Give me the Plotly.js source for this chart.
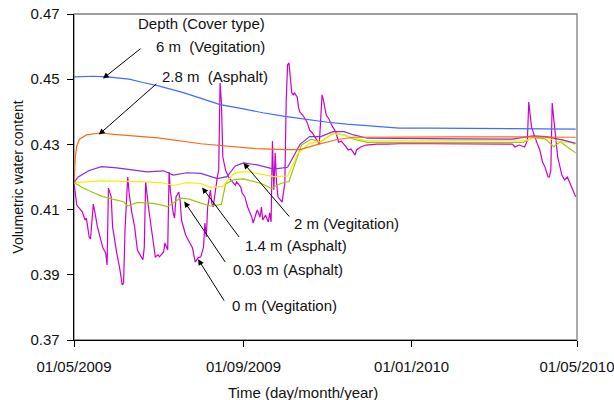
<!DOCTYPE html>
<html>
<head>
<meta charset="utf-8">
<script src="https://cdn.plot.ly/plotly-3.0.1.min.js"></script>
<style>
  html, body { margin: 0; padding: 0; background: #ffffff; }
  #chart { width: 614px; height: 400px; }
</style>
</head>
<body>
<div id="chart"></div>
<script>
// Volumetric water content at several depths, May 2009 - May 2010

// 6 m (Vegitation)
const depth6mDates = ['2009-05-01','2009-05-15','2009-05-25','2009-06-10','2009-06-20','2009-07-02','2009-07-20','2009-08-01','2009-08-15','2009-09-01','2009-09-15','2009-10-01','2009-10-15','2009-11-01','2009-11-15','2009-12-01','2009-12-07','2009-12-23','2010-01-15','2010-02-15','2010-03-12','2010-04-30'];
const depth6mValues = [0.4507,0.4509,0.4507,0.4500,0.4490,0.4479,0.4458,0.4442,0.4422,0.4409,0.4397,0.4386,0.4377,0.4368,0.4362,0.4357,0.4354,0.4350,0.4350,0.4349,0.4347,0.4347];

// 2.8 m (Asphalt)
const depth28mDates = ['2009-05-01','2009-05-02','2009-05-03','2009-05-05','2009-05-10','2009-05-20','2009-06-01','2009-07-01','2009-08-01','2009-08-20','2009-09-10','2009-10-01','2009-10-12','2009-10-25','2009-11-08','2009-11-20','2009-12-15','2010-02-01','2010-03-15','2010-04-20','2010-04-30'];
const depth28mValues = [0.4183,0.4264,0.4295,0.4316,0.4329,0.4335,0.4330,0.4320,0.4302,0.4294,0.4287,0.4284,0.4284,0.4300,0.4315,0.4322,0.4323,0.4323,0.4323,0.4323,0.4322];

// 2 m (Vegitation)
const depth2mDates = ['2009-05-01','2009-05-04','2009-05-12','2009-05-21','2009-06-01','2009-06-13','2009-06-23','2009-07-05','2009-07-12','2009-07-22','2009-08-01','2009-08-13','2009-08-20','2009-08-26','2009-09-01','2009-09-11','2009-09-23','2009-10-03','2009-10-12','2009-10-19','2009-10-27','2009-11-05','2009-11-13','2009-11-20','2009-11-30','2010-02-05','2010-03-15','2010-03-30','2010-04-09','2010-04-21','2010-04-30'];
const depth2mValues = [0.4183,0.4200,0.4220,0.4232,0.4228,0.4221,0.4216,0.4219,0.4206,0.4213,0.4211,0.4195,0.4201,0.4234,0.4243,0.4237,0.4224,0.4230,0.4300,0.4324,0.4324,0.4339,0.4339,0.4329,0.4319,0.4317,0.4316,0.4326,0.4324,0.4313,0.4303];

// 1.4 m (Asphalt)
const depth14mDates = ['2009-05-01','2009-05-20','2009-06-16','2009-07-03','2009-07-12','2009-07-22','2009-08-01','2009-08-08','2009-08-17','2009-08-25','2009-09-03','2009-09-11','2009-09-23','2009-10-03','2009-10-10','2009-10-19','2009-10-27','2009-11-05','2009-11-13','2009-11-20','2009-11-30','2010-02-12','2010-03-26','2010-04-02','2010-04-09','2010-04-17','2010-04-27','2010-04-30'];
const depth14mValues = [0.4183,0.4188,0.4186,0.4183,0.4174,0.4183,0.4180,0.4168,0.4171,0.4211,0.4217,0.4211,0.4201,0.4203,0.4270,0.4303,0.4309,0.4333,0.4329,0.4319,0.4311,0.4312,0.4313,0.4324,0.4321,0.4309,0.4305,0.4298];

// 0.03 m (Asphalt)
const depth003mDates = ['2009-05-01','2009-05-07','2009-05-14','2009-05-22','2009-05-29','2009-06-06','2009-06-09','2009-06-16','2009-06-28','2009-07-08','2009-07-17','2009-07-23','2009-08-01','2009-08-08','2009-08-16','2009-08-19','2009-08-25','2009-09-01','2009-09-14','2009-09-21','2009-09-28','2009-10-04','2009-10-13','2009-10-20','2009-10-27','2009-11-05','2009-11-13','2009-11-20','2009-11-30','2010-02-12','2010-03-23','2010-03-30','2010-04-08','2010-04-14','2010-04-19','2010-04-24','2010-04-30'];
const depth003mValues = [0.4183,0.4168,0.4154,0.4140,0.4132,0.4124,0.4111,0.4122,0.4119,0.4109,0.4135,0.4133,0.4120,0.4111,0.4116,0.4179,0.4192,0.4194,0.4180,0.4165,0.4180,0.4186,0.4298,0.4316,0.4308,0.4334,0.4329,0.4316,0.4306,0.4305,0.4306,0.4321,0.4317,0.4293,0.4308,0.4292,0.4274];

// 0 m (Vegitation)
const depth0mDates = ['2009-05-01','2009-05-03','2009-05-07','2009-05-09','2009-05-10','2009-05-12','2009-05-13','2009-05-15','2009-05-16','2009-05-18','2009-05-22','2009-05-24','2009-05-25','2009-05-26','2009-05-28','2009-05-29','2009-06-01','2009-06-03','2009-06-05','2009-06-06','2009-06-07','2009-06-09','2009-06-10','2009-06-12','2009-06-14','2009-06-16','2009-06-18','2009-06-20','2009-06-21','2009-06-22','2009-06-24','2009-06-26','2009-06-27','2009-06-29','2009-07-01','2009-07-02','2009-07-05','2009-07-06','2009-07-08','2009-07-09','2009-07-10','2009-07-12','2009-07-13','2009-07-14','2009-07-16','2009-07-17','2009-07-18','2009-07-21','2009-07-23','2009-07-26','2009-07-28','2009-07-30','2009-08-01','2009-08-03','2009-08-04','2009-08-05','2009-08-06','2009-08-08','2009-08-09','2009-08-10','2009-08-13','2009-08-14','2009-08-15','2009-08-16','2009-08-17','2009-08-19','2009-08-21','2009-08-24','2009-08-26','2009-08-27','2009-08-30','2009-08-31','2009-09-02','2009-09-04','2009-09-07','2009-09-08','2009-09-11','2009-09-13','2009-09-14','2009-09-15','2009-09-17','2009-09-19','2009-09-20','2009-09-21','2009-09-22','2009-09-23','2009-09-24','2009-09-25','2009-09-26','2009-09-29','2009-09-30','2009-10-01','2009-10-02','2009-10-03','2009-10-04','2009-10-05','2009-10-06','2009-10-07','2009-10-08','2009-10-10','2009-10-11','2009-10-12','2009-10-14','2009-10-17','2009-10-19','2009-10-21','2009-10-24','2009-10-26','2009-10-28','2009-10-29','2009-10-31','2009-11-02','2009-11-04','2009-11-07','2009-11-09','2009-11-11','2009-11-14','2009-11-16','2009-11-18','2009-11-21','2009-11-22','2009-11-25','2009-11-29','2009-12-07','2009-12-14','2009-12-23','2010-01-16','2010-02-12','2010-03-06','2010-03-15','2010-03-17','2010-03-20','2010-03-24','2010-03-25','2010-03-26','2010-03-27','2010-03-28','2010-03-29','2010-04-02','2010-04-04','2010-04-06','2010-04-08','2010-04-10','2010-04-11','2010-04-12','2010-04-13','2010-04-14','2010-04-16','2010-04-17','2010-04-20','2010-04-22','2010-04-24','2010-04-26','2010-04-28','2010-04-30'];
const depth0mValues = [0.4182,0.4114,0.4093,0.4068,0.4074,0.4016,0.4010,0.4117,0.4096,0.4047,0.3982,0.3967,0.3930,0.4166,0.4139,0.4047,0.3967,0.3924,0.3869,0.3875,0.4037,0.4200,0.4151,0.4090,0.4047,0.3976,0.3961,0.3946,0.3985,0.4185,0.4108,0.4037,0.4016,0.3955,0.3961,0.3955,0.3970,0.3998,0.3976,0.4215,0.4154,0.4090,0.4074,0.4139,0.4154,0.4129,0.4068,0.4022,0.4007,0.3982,0.3939,0.3952,0.3955,0.3985,0.4059,0.4016,0.4108,0.4160,0.4120,0.4108,0.4200,0.4221,0.4488,0.4427,0.4261,0.4221,0.4200,0.4185,0.4175,0.4185,0.4169,0.4151,0.4139,0.4108,0.4077,0.4059,0.4099,0.4077,0.4108,0.4068,0.4083,0.4062,0.4090,0.4062,0.4310,0.4160,0.4274,0.4182,0.4139,0.4123,0.4151,0.4182,0.4436,0.4544,0.4550,0.4488,0.4458,0.4452,0.4458,0.4445,0.4412,0.4399,0.4390,0.4369,0.4344,0.4335,0.4313,0.4301,0.4452,0.4436,0.4390,0.4378,0.4359,0.4338,0.4307,0.4310,0.4295,0.4283,0.4286,0.4267,0.4283,0.4292,0.4298,0.4301,0.4301,0.4302,0.4302,0.4302,0.4302,0.4301,0.4292,0.4298,0.4292,0.4304,0.4313,0.4430,0.4396,0.4353,0.4304,0.4283,0.4246,0.4228,0.4200,0.4200,0.4221,0.4427,0.4384,0.4313,0.4261,0.4206,0.4191,0.4200,0.4182,0.4160,0.4139];

// Axis ticks
const xTickDates = ['2009-05-01','2009-09-01','2010-01-01','2010-05-01'];
const xTickLabels = ['01/05/2009','01/09/2009','01/01/2010','01/05/2010'];
const yTickValues = [0.37,0.39,0.41,0.43,0.45,0.47];
const yTickLabels = ['0.37','0.39','0.41','0.43','0.45','0.47'];

// Callout labels and the point each arrow points at
const calloutLabels = ['6 m  (Vegitation)','2.8 m  (Asphalt)','2 m (Vegitation)','1.4 m (Asphalt)','0.03 m (Asphalt)','0 m (Vegitation)'];
const calloutTipDates = ['2009-05-22','2009-05-19','2009-09-01','2009-08-02','2009-07-20','2009-07-30'];
const calloutTipValues = [0.4502,0.4330,0.4243,0.4168,0.4125,0.3948];

const FONT = 'Liberation Sans, Arial, sans-serif';
const INK = '#111111';

const series = [
  {x: depth0mDates,  y: depth0mValues,  color: '#cc00cc'},
  {x: depth003mDates, y: depth003mValues, color: '#99cc00'},
  {x: depth14mDates, y: depth14mValues, color: '#f5ee00'},
  {x: depth2mDates,  y: depth2mValues,  color: '#8a2be2'},
  {x: depth28mDates, y: depth28mValues, color: '#ff6a10'},
  {x: depth6mDates,  y: depth6mValues,  color: '#3d6cff'}
];

const traces = series.map(s => ({
  type: 'scatter', mode: 'lines', x: s.x, y: s.y,
  line: {color: s.color, width: 1.2}, hoverinfo: 'skip', showlegend: false
}));

// arrow tails (pixel offsets from the tip) and label placement in paper units
const arrowOffsets = [[39,-31],[59,-52],[47,55],[38,51],[42,62],[27,43]];
const labelPos = [[0.159,0.899],[0.171,0.807],[0.434,0.356],[0.336,0.291],[0.312,0.215],[0.310,0.107]];

const annotations = [];
annotations.push({
  xref: 'paper', yref: 'paper', x: 0.123, y: 0.972, xanchor: 'left', yanchor: 'middle',
  text: 'Depth (Cover type)', showarrow: false, font: {family: FONT, size: 15, color: INK}
});
calloutLabels.forEach((t, i) => {
  annotations.push({
    xref: 'paper', yref: 'paper', x: labelPos[i][0], y: labelPos[i][1],
    xanchor: 'left', yanchor: 'middle', text: t, showarrow: false,
    font: {family: FONT, size: 15, color: INK}
  });
  annotations.push({
    xref: 'x', yref: 'y', x: calloutTipDates[i], y: calloutTipValues[i], text: '',
    showarrow: true, arrowhead: 2, arrowsize: 1.2, arrowwidth: 1, arrowcolor: '#000',
    ax: arrowOffsets[i][0], ay: arrowOffsets[i][1], standoff: 0
  });
});
// x-axis title, set slightly left of the axis centre
annotations.push({
  xref: 'paper', yref: 'paper', x: 0.455, y: -0.16, xanchor: 'center', yanchor: 'middle',
  text: 'Time (day/month/year)', showarrow: false, font: {family: FONT, size: 15, color: INK}
});

const layout = {
  width: 614, height: 400,
  margin: {l: 74, r: 37, t: 14, b: 60},
  paper_bgcolor: '#ffffff', plot_bgcolor: '#ffffff',
  font: {family: FONT, size: 15, color: INK},
  showlegend: false,
  xaxis: {
    type: 'date', range: ['2009-05-01', '2010-05-01'],
    tickmode: 'array', tickvals: xTickDates, ticktext: xTickLabels,
    ticks: 'outside', ticklen: 6, tickcolor: '#000', tickwidth: 1,
    ticklabelstandoff: 7, ticklabeloverflow: 'allow',
    showline: true, linecolor: '#000', linewidth: 1.3,
    showgrid: false, zeroline: false,
    tickfont: {family: FONT, size: 15, color: INK}
  },
  yaxis: {
    range: [0.37, 0.47],
    tickmode: 'array', tickvals: yTickValues, ticktext: yTickLabels,
    ticks: 'outside', ticklen: 6, tickcolor: '#000', tickwidth: 1,
    ticklabelstandoff: 4,
    showline: true, linecolor: '#000', linewidth: 1.3,
    showgrid: false, zeroline: false,
    tickfont: {family: FONT, size: 15, color: INK},
    title: {text: 'Volumetric water content', font: {family: FONT, size: 14, color: INK}, standoff: 3}
  },
  shapes: [{
    type: 'rect', xref: 'paper', yref: 'paper', x0: 0, y0: 0, x1: 1, y1: 1,
    line: {color: '#7f7f7f', width: 1.3}, layer: 'below'
  }],
  annotations: annotations
};

Plotly.newPlot('chart', traces, layout, {staticPlot: true, displayModeBar: false});
</script>
</body>
</html>
